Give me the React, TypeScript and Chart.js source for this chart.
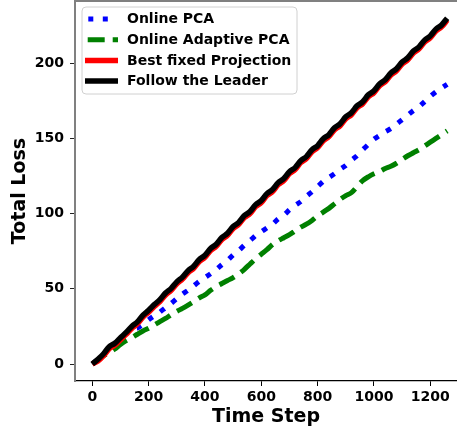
import { useEffect, useRef } from "react";
import { Chart, registerables } from "chart.js";

Chart.register(...registerables);

// ---------------- data ----------------
const steps = [
  0, 20, 40, 60, 80, 100, 120, 140, 160, 180,
  200, 220, 240, 260, 280, 300, 320, 340, 360, 380,
  400, 420, 440, 460, 480, 500, 520, 540, 560, 580,
  600, 620, 640, 660, 680, 700, 720, 740, 760, 780,
  800, 820, 840, 860, 880, 900, 920, 940, 960, 980,
  1000, 1020, 1040, 1060, 1080, 1100, 1120, 1140, 1160, 1180,
  1200, 1220, 1240, 1260,
];

const onlinePCA = [
  0, 3, 6.5, 11, 13.5, 17, 20.5, 23.5, 24, 26.5,
  29.5, 32, 34.5, 37.5, 40.3, 43.5, 46.5, 49, 52, 55,
  57.5, 60, 62.8, 66, 68.8, 72.5, 75.5, 79, 82, 85.5,
  88, 90.5, 93, 96.5, 99, 102.5, 105.5, 108, 111.5, 114.5,
  118, 121.5, 124, 126.5, 129.5, 132, 135.5, 138.5, 142.5, 146,
  149.5, 152, 154.5, 156.5, 159.5, 162.5, 165.5, 168.5, 171, 174.5,
  178, 181, 183.5, 186,
];

const onlineAdaptivePCA = [
  0, 2.8, 5.5, 7.5, 10, 13, 15.5, 17.5, 19.8, 22,
  23.8, 26, 28.2, 30.3, 32.8, 35, 37, 39.2, 41.5, 44,
  46, 49, 51.5, 53.5, 55.5, 57.5, 60, 63, 66.5, 70,
  73, 76, 79.5, 82, 84, 86, 88.5, 91, 93, 95.5,
  98.5, 101, 103.5, 106.5, 109.5, 112, 114, 118, 122, 124.5,
  126.5, 128, 130, 131.5, 133.5, 136, 138.5, 140.5, 142.5, 145,
  147.5, 150, 152.5, 155,
];

const bestFixedProjection = [
  0, 1.9, 5.5, 10.2, 12.5, 16.2, 19.7, 23.7, 26.7, 31.2,
  34.5, 38.2, 41.5, 45.9, 49, 53.3, 56.5, 60.7, 63.7, 68.2,
  71, 75.5, 78.3, 82.8, 85.6, 90.1, 92.9, 97.4, 100.1, 104.7,
  107.4, 112, 114.7, 119.3, 122, 126.6, 129.3, 133.9, 136.6, 141.2,
  143.9, 148.5, 151.2, 155.8, 158.5, 163.1, 165.8, 170.4, 173.1, 177.7,
  180.4, 185, 187.7, 192.2, 195, 199.5, 202.3, 206.8, 209.6, 214.1,
  216.9, 221.4, 224.2, 228.7,
];

const followTheLeader = [
  0, 3.2, 6.8, 11.5, 13.8, 17.5, 21, 25, 28, 32.5,
  35.8, 39.5, 42.8, 47.2, 50.3, 54.6, 57.8, 62, 65, 69.5,
  72.3, 76.8, 79.6, 84.1, 86.9, 91.4, 94.2, 98.7, 101.4, 106,
  108.7, 113.3, 116, 120.6, 123.3, 127.9, 130.6, 135.2, 137.9, 142.5,
  145.2, 149.8, 152.5, 157.1, 159.8, 164.4, 167.1, 171.7, 174.4, 179,
  181.7, 186.3, 189, 193.5, 196.3, 200.8, 203.6, 208.1, 210.9, 215.4,
  218.2, 222.7, 225.5, 230,
];

const seriesLabels = [
  "Online PCA",
  "Online Adaptive PCA",
  "Best fixed Projection",
  "Follow the Leader",
];
const xTitle = "Time Step";
const yTitle = "Total Loss";

// ---------------- styles ----------------
const W = 457;
const H = 432;
const FONT = "'DejaVu Sans', 'Liberation Sans', sans-serif";

const styles = [
  { color: "#0000ff", width: 5, dash: [5, 9.5], cap: "butt" as CanvasLineCap },
  { color: "#008000", width: 5, dash: [17, 8], cap: "butt" as CanvasLineCap },
  { color: "#ff0000", width: 5.5, dash: [] as number[], cap: "butt" as CanvasLineCap },
  { color: "#000000", width: 5.5, dash: [] as number[], cap: "butt" as CanvasLineCap },
];

const toPoints = (vals: number[]) => steps.map((s, i) => ({ x: s, y: vals[i] }));

const overlayPlugin = {
  id: "overlay",
  afterDraw(chart: any) {
    const ctx: CanvasRenderingContext2D = chart.ctx;
    const a = chart.chartArea;
    ctx.save();
    // top spine
    ctx.strokeStyle = "#808080";
    ctx.lineWidth = 2;
    ctx.beginPath();
    ctx.moveTo(a.left - 1, a.top);
    ctx.lineTo(a.right, a.top);
    ctx.stroke();

    // legend box
    const bx = a.left + 7;
    const by = a.top + 6;
    const bw = 215;
    const bh = 87;
    const r = 4;
    ctx.beginPath();
    ctx.moveTo(bx + r, by);
    ctx.lineTo(bx + bw - r, by);
    ctx.quadraticCurveTo(bx + bw, by, bx + bw, by + r);
    ctx.lineTo(bx + bw, by + bh - r);
    ctx.quadraticCurveTo(bx + bw, by + bh, bx + bw - r, by + bh);
    ctx.lineTo(bx + r, by + bh);
    ctx.quadraticCurveTo(bx, by + bh, bx, by + bh - r);
    ctx.lineTo(bx, by + r);
    ctx.quadraticCurveTo(bx, by, bx + r, by);
    ctx.closePath();
    ctx.fillStyle = "rgba(255,255,255,0.85)";
    ctx.fill();
    ctx.strokeStyle = "#d0d0d0";
    ctx.lineWidth = 1;
    ctx.stroke();

    const handles = [
      { x0: 88.3, x1: 108, offset: 0 },
      { x0: 87.7, x1: 118, offset: 0 },
      { x0: 85, x1: 118, offset: 0 },
      { x0: 85, x1: 118, offset: 0 },
    ];
    seriesLabels.forEach((label, i) => {
      const y = by + 12 + i * 20.7;
      const st = styles[i];
      const h = handles[i];
      ctx.beginPath();
      ctx.setLineDash(st.dash);
      ctx.lineDashOffset = h.offset;
      ctx.lineCap = "butt";
      ctx.strokeStyle = st.color;
      ctx.lineWidth = st.width;
      ctx.moveTo(h.x0, y);
      ctx.lineTo(h.x1, y);
      ctx.stroke();
      ctx.setLineDash([]);
      ctx.fillStyle = "#000";
      ctx.font = `bold 14px ${FONT}`;
      ctx.textBaseline = "middle";
      ctx.textAlign = "left";
      ctx.fillText(label, bx + 45, y + 0.5);
    });
    ctx.restore();
  },
};

export default function App() {
  const ref = useRef<HTMLCanvasElement | null>(null);

  useEffect(() => {
    if (!ref.current) return;
    const series = [onlinePCA, onlineAdaptivePCA, bestFixedProjection, followTheLeader];
    const orders = [3, 2, 1, 0];
    const tensions = [0.2, 0.3, 0.35, 0.35];
    const tickFont = { family: FONT, size: 14, weight: "bold" as const };
    const titleFont = { family: FONT, size: 19, weight: "bold" as const };
    const plain = (v: any) => String(v);

    const chart = new Chart(ref.current, {
      type: "line",
      data: {
        datasets: series.map((vals, i) => ({
          label: seriesLabels[i],
          data: toPoints(vals),
          borderColor: styles[i].color,
          backgroundColor: styles[i].color,
          borderWidth: styles[i].width,
          borderDash: styles[i].dash,
          borderCapStyle: styles[i].cap,
          borderJoinStyle: "round" as CanvasLineJoin,
          pointRadius: 0,
          pointHoverRadius: 0,
          fill: false,
          tension: tensions[i],
          order: orders[i],
        })),
      },
      options: {
        animation: false,
        responsive: false,
        devicePixelRatio: window.devicePixelRatio || 1,
        layout: { padding: { top: 1, left: 0, right: 0, bottom: 0 } },
        plugins: {
          legend: { display: false },
          tooltip: { enabled: false },
        },
        scales: {
          x: {
            type: "linear",
            min: -61.4,
            max: 1294.8,
            ticks: {
              stepSize: 200,
              includeBounds: false,
              color: "#000",
              font: tickFont,
              padding: 3,
              maxRotation: 0,
              autoSkip: false,
              callback: plain,
            },
            grid: {
              drawOnChartArea: false,
              drawTicks: true,
              tickLength: 5,
              tickWidth: 1,
              color: "#000",
            },
            border: { color: "#000", width: 1.3 },
            title: {
              display: true,
              text: xTitle,
              color: "#000",
              font: titleFont,
              padding: { top: 0, bottom: 4 },
            },
            afterFit(s: any) {
              s.height = 51;
              s.paddingLeft = 0;
              s.paddingRight = 0;
              s.paddingTop = 0;
              s.paddingBottom = 0;
            },
          },
          y: {
            type: "linear",
            min: -11.3,
            max: 241.4,
            ticks: {
              stepSize: 50,
              includeBounds: false,
              color: "#000",
              font: tickFont,
              padding: 6,
              callback: plain,
            },
            grid: {
              drawOnChartArea: false,
              drawTicks: true,
              tickLength: 5,
              tickWidth: 1,
              color: "#222",
            },
            border: { color: "#808080", width: 2 },
            title: {
              display: true,
              text: yTitle,
              color: "#000",
              font: titleFont,
              padding: { top: 8.6, bottom: 0 },
            },
            afterFit(s: any) {
              s.width = 75;
              s.paddingLeft = 0;
              s.paddingRight = 0;
              s.paddingTop = 0;
              s.paddingBottom = 0;
            },
          },
        },
      } as any,
      plugins: [overlayPlugin],
    });
    return () => chart.destroy();
  }, []);

  return (
    <div style={{ position: "absolute", left: 0, top: 0, width: W, height: H, background: "#fff" }}>
      <canvas ref={ref} width={W} height={H} style={{ display: "block", width: W, height: H }} />
    </div>
  );
}
